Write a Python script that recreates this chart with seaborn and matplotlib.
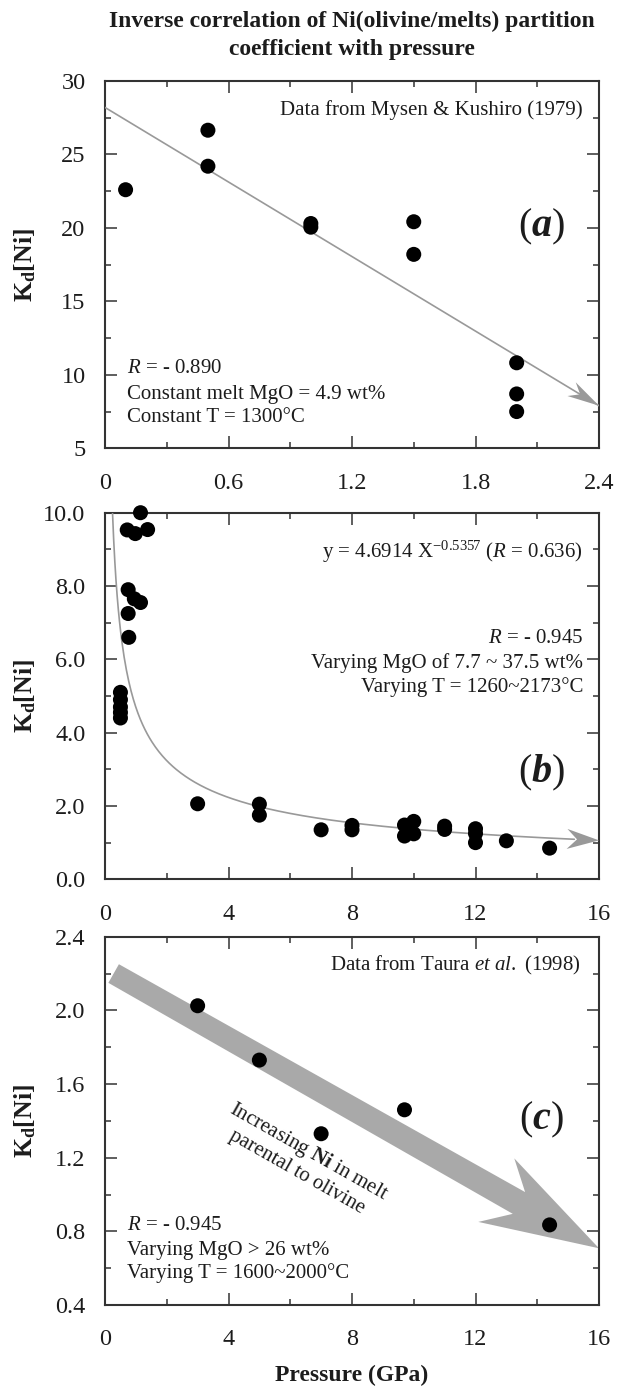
import numpy as np
import matplotlib
matplotlib.use("Agg")
import matplotlib.pyplot as plt
from matplotlib.patches import Polygon
from matplotlib.ticker import MultipleLocator
import seaborn as sns

# ---------------- data ----------------
# (a) Mysen & Kushiro (1979), constant melt MgO and T
a_pressure = [0.1, 0.5, 0.5, 1.0, 1.0, 1.5, 1.5, 2.0, 2.0, 2.0]
a_kd = [22.6, 26.65, 24.2, 20.05, 20.3, 20.42, 18.2, 10.82, 8.7, 7.5]
a_trend_pressure = [0.0, 2.4]
a_trend_kd = [28.2, 7.9]

# (b) compilation with varying MgO and T
b_pressure = [0.5, 0.5, 0.5, 0.5, 0.5,
              0.75, 0.75, 0.77, 0.95, 1.15,
              0.72, 0.98, 1.15, 1.38,
              3.0, 5.0, 5.0, 7.0, 8.0, 8.0,
              9.7, 9.7, 10.0, 10.0, 11.0, 11.0,
              12.0, 12.0, 12.0, 13.0, 14.4]
b_kd = [5.1, 4.9, 4.7, 4.55, 4.4,
        7.9, 7.25, 6.6, 7.65, 7.55,
        9.53, 9.43, 10.0, 9.54,
        2.06, 2.05, 1.75, 1.35, 1.47, 1.35,
        1.48, 1.18, 1.58, 1.24, 1.45, 1.36,
        1.38, 1.25, 1.0, 1.05, 0.85]
fit_coef = 4.6914
fit_exp = -0.5357

# (c) Taura et al. (1998)
c_pressure = [3.0, 5.0, 7.0, 9.7, 14.4]
c_kd = [2.025, 1.73, 1.33, 1.46, 0.835]
c_arrow_start = (0.28, 2.20)
c_arrow_tip = (16.0, 0.708)

# tick values and labels
a_xticks = [0, 0.6, 1.2, 1.8, 2.4]
a_xticklabels = ["0", "0.6", "1.2", "1.8", "2.4"]
a_yticks = [5, 10, 15, 20, 25, 30]
a_yticklabels = ["5", "10", "15", "20", "25", "30"]
p_xticks = [0, 4, 8, 12, 16]
p_xticklabels = ["0", "4", "8", "12", "16"]
b_yticks = [0, 2, 4, 6, 8, 10]
b_yticklabels = ["0.0", "2.0", "4.0", "6.0", "8.0", "10.0"]
c_yticks = [0.4, 0.8, 1.2, 1.6, 2.0, 2.4]
c_yticklabels = ["0.4", "0.8", "1.2", "1.6", "2.0", "2.4"]

title_lines = ["Inverse correlation of Ni(olivine/melts) partition",
               "coefficient with pressure"]

# ---------------- style ----------------
sns.set_style("ticks")
plt.rcParams["font.family"] = ["Liberation Serif", "DejaVu Serif"]
plt.rcParams["mathtext.fontset"] = "custom"
plt.rcParams["mathtext.rm"] = "Liberation Serif"
plt.rcParams["mathtext.it"] = "Liberation Serif:italic"
plt.rcParams["mathtext.bf"] = "Liberation Serif:bold"
try:
    plt.rcParams["mathtext.bfit"] = "Liberation Serif:italic:bold"
    BFIT = True
except KeyError:
    BFIT = False

TXT = "#1c1c1c"
SPINE = "#333333"
LINE_GRAY = "#999999"
ARROW_GRAY = "#a9a9a9"

W, H = 618, 1387
fig = plt.figure(figsize=(W / 100, H / 100), dpi=100)


def rect(top, bottom, left=105, right=599):
    return [left / W, 1 - bottom / H, (right - left) / W, (bottom - top) / H]


ax_a = fig.add_axes(rect(81, 448.3))
ax_b = fig.add_axes(rect(512.7, 879.3))
ax_c = fig.add_axes(rect(936.7, 1305))


def style_axes(ax, xlim, ylim, xt, xtl, xminor, yt, ytl, yminor):
    ax.set_xlim(*xlim)
    ax.set_ylim(*ylim)
    ax.set_xticks(xt)
    ax.set_xticklabels(xtl)
    ax.set_yticks(yt)
    ax.set_yticklabels(ytl)
    ax.xaxis.set_minor_locator(MultipleLocator(xminor))
    ax.yaxis.set_minor_locator(MultipleLocator(yminor))
    ax.tick_params(which="both", direction="in", top=True, right=True,
                   width=1.1, color=SPINE, labelsize=17.5, labelcolor=TXT)
    ax.tick_params(which="major", length=8.6)
    ax.tick_params(which="minor", length=4.3)
    ax.tick_params(axis="x", which="major", pad=17.5)
    ax.tick_params(axis="y", which="major", pad=14)
    for s in ax.spines.values():
        s.set_linewidth(1.5)
        s.set_color(SPINE)
    ax.set_ylabel(r"$\mathbf{K_d[Ni]}$", fontsize=18.5, color=TXT, va="center")
    ax.yaxis.set_label_coords(-80 / 494, 0.5)


def notched_head(ax, tail, tip, length, half_width, notch, color, z):
    tr = ax.transData
    p0 = np.array(tr.transform(tail))
    p1 = np.array(tr.transform(tip))
    d = (p1 - p0) / np.hypot(*(p1 - p0))
    n = np.array([-d[1], d[0]])
    base = p1 - length * d
    pts = [p1, base + half_width * n, p1 - (length - notch) * d, base - half_width * n]
    ax.add_patch(Polygon(tr.inverted().transform(pts), closed=True,
                         facecolor=color, edgecolor="none", zorder=z, clip_on=False))


def block_arrow(ax, start, tip, w_start, w_join, join_len, head_len, head_half, color, z):
    tr = ax.transData
    p0 = np.array(tr.transform(start))
    p1 = np.array(tr.transform(tip))
    d = (p1 - p0) / np.hypot(*(p1 - p0))
    n = np.array([-d[1], d[0]])
    j = p1 - join_len * d
    b = p1 - head_len * d
    pts = [p0 + w_start * n, j + w_join * n, b + head_half * n, p1,
           b - head_half * n, j - w_join * n, p0 - w_start * n]
    ax.add_patch(Polygon(tr.inverted().transform(pts), closed=True,
                         facecolor=color, edgecolor="none", zorder=z, clip_on=False))
    return np.degrees(np.arctan2(d[1], d[0]))


DOT = dict(s=117, color="black", edgecolor="none", zorder=5, clip_on=False, legend=False)
NOTE = dict(fontsize=15, color=TXT)

# ---------------- (a) ----------------
style_axes(ax_a, (0, 2.4), (5, 30), a_xticks, a_xticklabels, 0.3,
           a_yticks, a_yticklabels, 2.5)
sns.lineplot(x=a_trend_pressure, y=a_trend_kd, ax=ax_a, color=LINE_GRAY,
             linewidth=1.2, sort=False, estimator=None, zorder=3)
notched_head(ax_a, (a_trend_pressure[0], a_trend_kd[0]),
             (a_trend_pressure[1], a_trend_kd[1]), 32, 8, 10, LINE_GRAY, 4)
sns.scatterplot(x=a_pressure, y=a_kd, ax=ax_a, **DOT)
ax_a.text(0.9676, 0.921, "Data from Mysen & Kushiro (1979)", transform=ax_a.transAxes,
          ha="right", va="center", **NOTE)
ax_a.text(0.0445, 0.2186, r"$\mathit{R}$ = - 0.890", transform=ax_a.transAxes,
          ha="left", va="center", **NOTE)
ax_a.text(0.0445, 0.1478, "Constant melt MgO = 4.9 wt%", transform=ax_a.transAxes,
          ha="left", va="center", **NOTE)
ax_a.text(0.0445, 0.0852, "Constant T = 1300°C", transform=ax_a.transAxes,
          ha="left", va="center", **NOTE)


def panel_tag(ax, letter, y):
    if BFIT:
        s = r"($\mathbfit{%s}$)" % letter
    else:
        s = r"($\mathbf{%s}$)" % letter
    ax.text(0.883, y, s, transform=ax.transAxes, ha="center", va="center",
            fontsize=29, color=TXT)


panel_tag(ax_a, "a", 0.6025)

# ---------------- (b) ----------------
style_axes(ax_b, (0, 16), (0, 10), p_xticks, p_xticklabels, 2,
           b_yticks, b_yticklabels, 1)
fit_x = np.linspace((10.0 / fit_coef) ** (1 / fit_exp), 15.2, 400)
fit_y = fit_coef * fit_x ** fit_exp
sns.lineplot(x=fit_x, y=fit_y, ax=ax_b, color=LINE_GRAY, linewidth=1.2,
             sort=False, estimator=None, zorder=3)
notched_head(ax_b, (15.0, fit_coef * 15.0 ** fit_exp), (16.0, fit_coef * 16.0 ** fit_exp),
             32, 10, 10, LINE_GRAY, 4)
sns.scatterplot(x=b_pressure, y=b_kd, ax=ax_b, **DOT)
ax_b.text(0.9676, 0.8936, r"y = 4.6914 X$^{\mathrm{-0.5357}}$ ($\mathit{R}$ = 0.636)",
          transform=ax_b.transAxes, ha="right", va="center", **NOTE)
ax_b.text(0.9676, 0.6555, r"$\mathit{R}$ = - 0.945", transform=ax_b.transAxes,
          ha="right", va="center", **NOTE)
ax_b.text(0.9676, 0.589, "Varying MgO of 7.7 ~ 37.5 wt%", transform=ax_b.transAxes,
          ha="right", va="center", **NOTE)
ax_b.text(0.9676, 0.5254, "Varying T = 1260~2173°C", transform=ax_b.transAxes,
          ha="right", va="center", **NOTE)
panel_tag(ax_b, "b", 0.29)

# ---------------- (c) ----------------
style_axes(ax_c, (0, 16), (0.4, 2.4), p_xticks, p_xticklabels, 2,
           c_yticks, c_yticklabels, 0.2)
angle = block_arrow(ax_c, c_arrow_start, c_arrow_tip, 10.7, 12.5, 92, 118, 36.5,
                    ARROW_GRAY, 2)
sns.scatterplot(x=c_pressure, y=c_kd, ax=ax_c, **DOT)
ax_c.text(0.401, 0.391, "Increasing $\\mathbf{Ni}$ in melt\nparental to olivine",
          transform=ax_c.transAxes, rotation=angle, rotation_mode="anchor",
          ha="center", va="center", multialignment="center", **NOTE)
ax_c.text(0.9636, 0.923, r"Data from Taura $\mathit{et\ al.}$ (1998)",
          transform=ax_c.transAxes, ha="right", va="center", **NOTE)
ax_c.text(0.0445, 0.2145, r"$\mathit{R}$ = - 0.945", transform=ax_c.transAxes,
          ha="left", va="center", **NOTE)
ax_c.text(0.0445, 0.1493, "Varying MgO > 26 wt%", transform=ax_c.transAxes,
          ha="left", va="center", **NOTE)
ax_c.text(0.0445, 0.086, "Varying T = 1600~2000°C", transform=ax_c.transAxes,
          ha="left", va="center", **NOTE)
panel_tag(ax_c, "c", 0.5023)
ax_c.set_xlabel("Pressure (GPa)", fontsize=17, fontweight="bold", color=TXT, va="center")
ax_c.xaxis.set_label_coords(0.5, -(1375 - 1305) / 368.3)

# two-line figure title
for line, y_px in zip(title_lines, [21.7, 50.0]):
    fig.text(352 / W, 1 - y_px / H, line, ha="center", va="center",
             fontsize=17, fontweight="bold", color=TXT)

fig.savefig("out.png", dpi=100)
